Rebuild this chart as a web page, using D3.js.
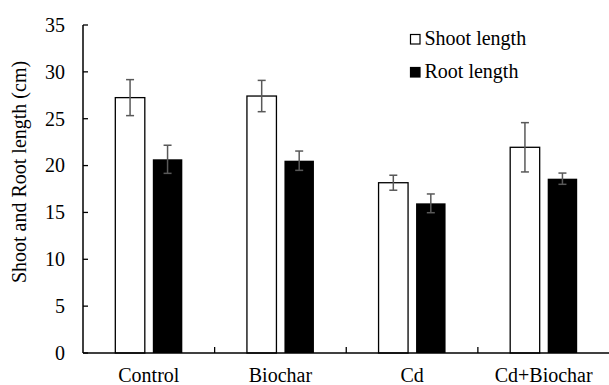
<!DOCTYPE html>
<html><head><meta charset="utf-8">
<script src="https://cdn.jsdelivr.net/npm/d3@7"></script>
<style>
body{margin:0;background:#fff}
svg{display:block}
svg text{font-family:"Times New Roman","Liberation Serif",Tinos,serif !important;}
</style>
</head><body><svg id="c" width="609" height="385"></svg>
<script>
const categories = ["Control","Biochar","Cd","Cd+Biochar"];
const shootLength = [27.25, 27.42, 18.17, 21.95];
const shootErr = [1.92, 1.67, 0.8, 2.63];
const rootLength = [20.67, 20.52, 15.97, 18.6];
const rootErr = [1.5, 1.03, 1.0, 0.6];
const yTicks = [0,5,10,15,20,25,30,35];
const seriesNames = ["Shoot length","Root length"];

const svg = d3.select("#c");
const L=83, R=609.5, T=25, B=353;
const x = d3.scaleBand().domain(categories).range([L,R]).padding(0);
const y = d3.scaleLinear().domain([0,35]).range([B,T]);
const bw = 29.5, gap = 8;

// y axis
svg.append("line").attr("x1",L).attr("x2",L).attr("y1",T).attr("y2",B).attr("stroke","#000").attr("stroke-width",1.5);
svg.selectAll(".yt").data(yTicks).enter().append("line")
  .attr("x1",L).attr("x2",L+5).attr("y1",d=>y(d)).attr("y2",d=>y(d)).attr("stroke","#000").attr("stroke-width",1.3);
svg.selectAll(".yl").data(yTicks).enter().append("text")
  .attr("x",65).attr("y",d=>y(d)).attr("dy","0.34em").attr("text-anchor","end")
  .style("font-size","20px").text(d=>d);

// bars
const g = svg.append("g");
categories.forEach((c,i)=>{
  const cx = x(c)+x.bandwidth()/2;
  g.append("rect").attr("x",cx-gap/2-bw).attr("y",y(shootLength[i])).attr("width",bw)
   .attr("height",y(0)-y(shootLength[i])).attr("fill","#fff").attr("stroke","#000").attr("stroke-width",1.3);
  g.append("rect").attr("x",cx+gap/2).attr("y",y(rootLength[i])).attr("width",bw)
   .attr("height",y(0)-y(rootLength[i])).attr("fill","#000");
  [[cx-gap/2-bw/2, shootLength[i], shootErr[i]],[cx+gap/2+bw/2, rootLength[i], rootErr[i]]].forEach(([ex,v,e])=>{
    const eg = g.append("g").attr("stroke","#595959").attr("stroke-width",1.5);
    eg.append("line").attr("x1",ex).attr("x2",ex).attr("y1",y(v+e)).attr("y2",y(v-e));
    eg.append("line").attr("x1",ex-4).attr("x2",ex+4).attr("y1",y(v+e)).attr("y2",y(v+e));
    eg.append("line").attr("x1",ex-4).attr("x2",ex+4).attr("y1",y(v-e)).attr("y2",y(v-e));
  });
});

// x axis
svg.append("line").attr("x1",L).attr("x2",R).attr("y1",B).attr("y2",B).attr("stroke","#000").attr("stroke-width",1.5);
categories.slice(1).forEach(c=>{
  svg.append("line").attr("x1",x(c)).attr("x2",x(c)).attr("y1",B).attr("y2",B-6).attr("stroke","#000").attr("stroke-width",1.3);
});
svg.selectAll(".xl").data(categories).enter().append("text")
  .attr("x",d=>x(d)+x.bandwidth()/2).attr("y",381.5).attr("text-anchor","middle")
  .style("font-size","20px").text(d=>d);

// y title
svg.append("text").attr("transform","translate(26,172) rotate(-90)").attr("text-anchor","middle")
  .style("font-size","20px").text("Shoot and Root length (cm)");

// legend
const leg = svg.append("g");
seriesNames.forEach((n,i)=>{
  const yy = 34 + i*33;
  leg.append("rect").attr("x",410.5).attr("y",yy+0.5).attr("width",9.5).attr("height",9.5)
    .attr("fill", i===0?"#fff":"#000").attr("stroke","#000").attr("stroke-width",1.2);
  leg.append("text").attr("x",424.5).attr("y",yy+10.5).style("font-size","20px").text(n);
});
</script></body></html>
